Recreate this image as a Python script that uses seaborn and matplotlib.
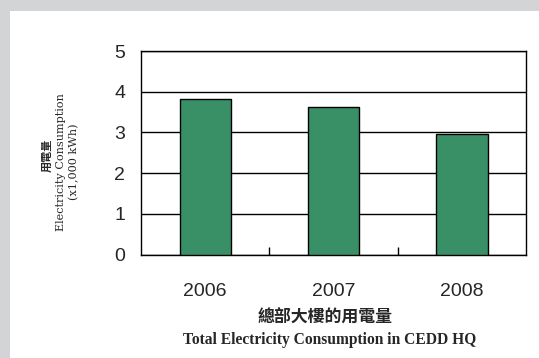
'''
Bar chart of the total electricity consumption in CEDD HQ, 2006-2008.
'''

import matplotlib
matplotlib.use('Agg')
import matplotlib.pyplot as plt
from matplotlib.patches import Rectangle
import seaborn as sns

# values
years = ['2006', '2007', '2008']
consumption = [3.82, 3.63, 2.96]
y_ticks = [0, 1, 2, 3, 4, 5]

W, H = 539, 358
bar_color = '#3a9066'


def px(x, y):
    # pixel position (from top-left) to figure fraction
    return x / W, 1 - y / H


sns.set_style('white')
plt.rcParams['font.family'] = ['Liberation Sans', 'DejaVu Sans']

fig = plt.figure(figsize=(W / 100, H / 100), dpi=100, facecolor='#d3d4d6')
# white panel, grey band on top and left
fig.patches.append(Rectangle((10 / W, 0), 1, 1 - 11 / H, transform=fig.transFigure,
                             facecolor='white', edgecolor='none', zorder=-10))

left, right, top, bottom = 141, 526, 51, 254.5
ax = fig.add_axes([left / W, 1 - bottom / H, (right - left) / W, (bottom - top) / H])

sns.barplot(x=years, y=consumption, color=bar_color, saturation=1, width=0.4,
            edgecolor='black', linewidth=1, ax=ax, zorder=3)

ax.set_ylim(0, 5)
ax.set_yticks(y_ticks)
ax.set_xlim(-0.5, len(years) - 0.5)
ax.yaxis.grid(True, color='black', linewidth=1)
ax.set_axisbelow(True)
for sp in ax.spines.values():
    sp.set_visible(True)
    sp.set_color('black')
    sp.set_linewidth(1)

ax.tick_params(axis='y', length=0, pad=11.5, labelsize=14)
ax.tick_params(axis='x', which='major', length=0, pad=20.5, labelsize=14)
# small marks between the categories
ax.set_xticks([i + 0.5 for i in range(len(years) - 1)], minor=True)
ax.tick_params(axis='x', which='minor', bottom=True, direction='in', length=5.5,
               width=1, color='black')
ax.set_xlabel('')
ax.set_ylabel('')

# y axis label, three rotated lines
fig.text(*px(47, 155), '用電量', rotation=90, ha='center', va='center', fontsize=8,
         weight='bold', family=['Noto Sans CJK TC', 'DejaVu Sans'])
fig.text(*px(61.5, 162), 'Electricity Consumption', rotation=90, ha='center', va='center',
         fontsize=8.1, family='DejaVu Serif')
fig.text(*px(74, 162), '(x1,000 kWh)', rotation=90, ha='center', va='center',
         fontsize=8.1, family='DejaVu Serif')

# title under the chart
fig.text(*px(325, 317.5), '總部大樓的用電量', ha='center', va='center', fontsize=12.2,
         weight='bold', family=['Noto Sans CJK TC', 'DejaVu Sans'])
fig.text(*px(330, 340), 'Total Electricity Consumption in CEDD HQ', ha='center', va='center',
         fontsize=11.2, weight='bold', family='Liberation Serif')

fig.savefig('out.png', dpi=100, facecolor=fig.get_facecolor())
